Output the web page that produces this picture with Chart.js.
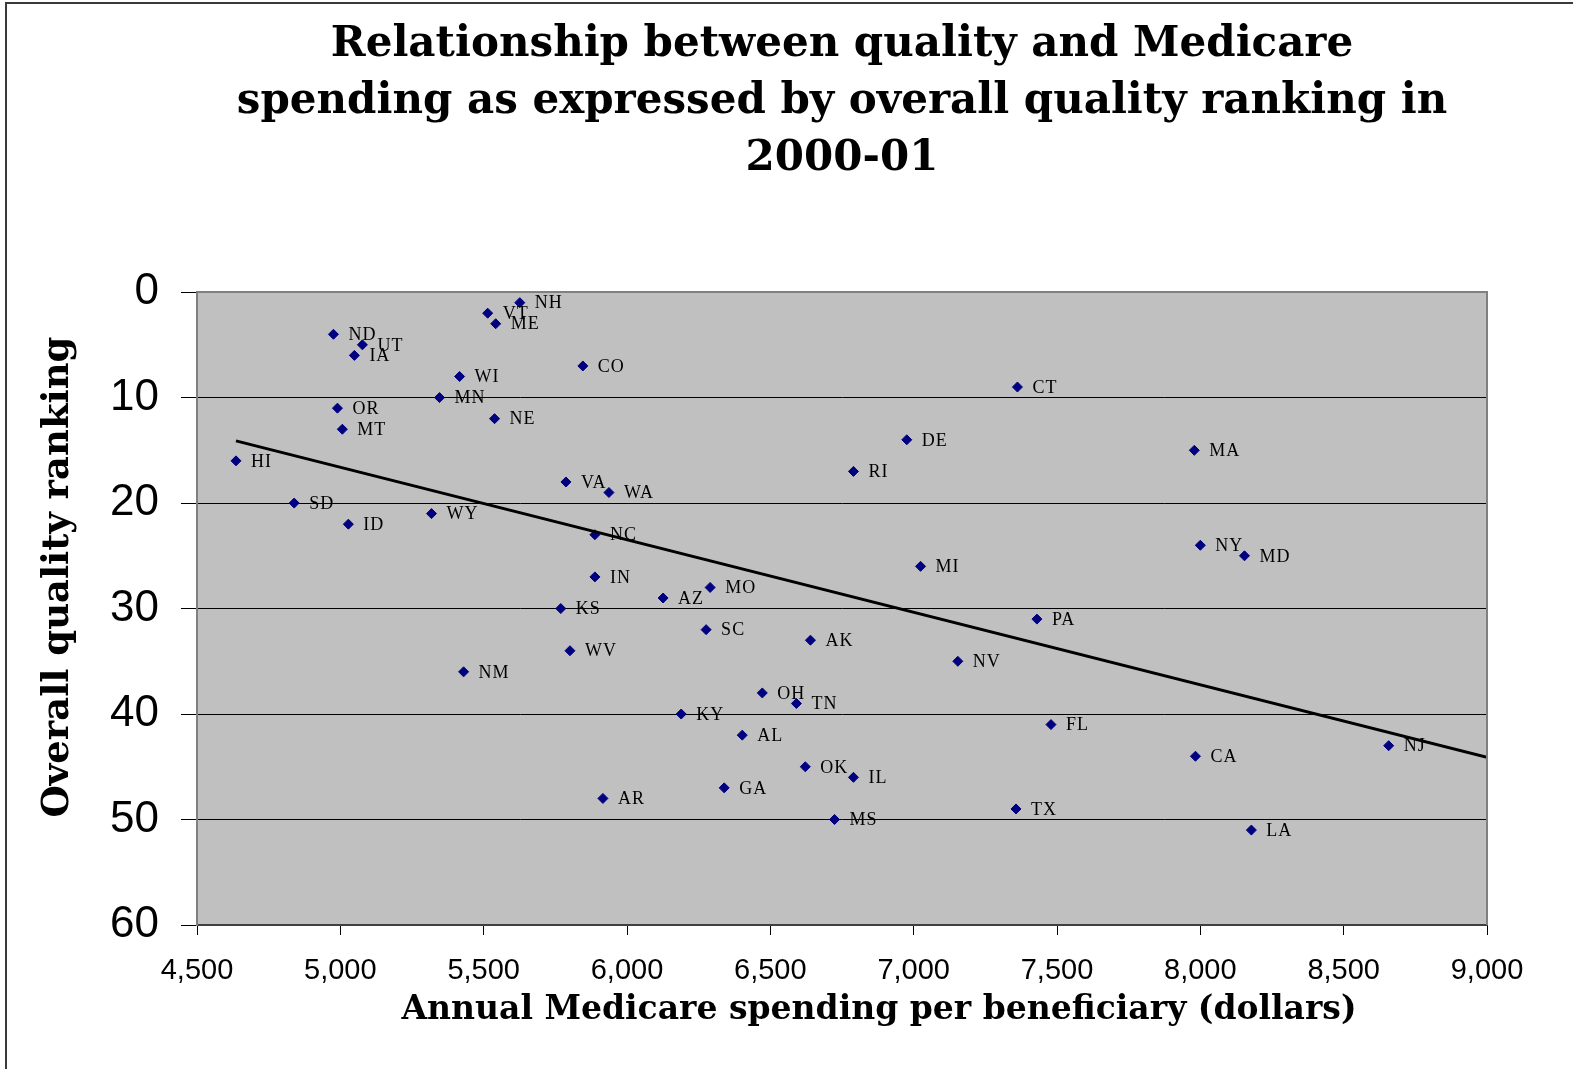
<!DOCTYPE html>
<html lang="en">
    <head>
        <meta charset="UTF-8" />
        <title>Quality ranking vs Medicare spending</title>
        <script src="https://cdn.jsdelivr.net/npm/chart.js"></script>
        <style>
            html, body { margin: 0; padding: 0; background: #fff; overflow: hidden; }
            #wrap { width: 1573px; height: 1069px; position: relative; }
        </style>
    </head>
    <body>
        <div id="wrap"><canvas id="myChart"></canvas></div>

        <script>
            // state, spending per beneficiary ($), overall quality rank
            const states = ["NH", "VT", "ME", "ND", "UT", "IA", "CO", "WI", "CT", "MN",
                "OR", "NE", "MT", "DE", "MA", "HI", "RI", "VA", "WA", "SD",
                "WY", "ID", "NC", "NY", "MD", "MI", "IN", "MO", "AZ", "KS",
                "PA", "SC", "AK", "WV", "NV", "NM", "OH", "TN", "KY", "FL",
                "AL", "NJ", "CA", "OK", "IL", "GA", "AR", "TX", "MS", "LA"];
            const spending = [5626, 5514, 5542, 4976, 5077, 5049, 5846, 5416, 7362, 5346,
                4990, 5538, 5007, 6976, 7979, 4636, 6790, 5787, 5937, 4839,
                5318, 5028, 5888, 8000, 8154, 7024, 5888, 6290, 6126, 5769,
                7430, 6276, 6640, 5801, 7154, 5430, 6472, 6591, 6189, 7479,
                6402, 8657, 7983, 6622, 6790, 6339, 5916, 7357, 6724, 8178];
            const ranking = [1, 2, 3, 4, 5, 6, 7, 8, 9, 10,
                11, 12, 13, 14, 15, 16, 17, 18, 19, 20,
                21, 22, 23, 24, 25, 26, 27, 28, 29, 30,
                31, 32, 33, 34, 35, 36, 38, 39, 40, 41,
                42, 43, 44, 45, 46, 47, 48, 49, 50, 51];

            // linear trend line at both ends
            const trendSpending = [4636, 9000];
            const trendRanking = [14.1, 44.1];

            const serif = "'DejaVu Serif', serif";
            const sans = "'Liberation Sans', Arial, sans-serif";

            const points = spending.map((x, i) => ({ x: x, y: ranking[i] }));
            const trend = trendSpending.map((x, i) => ({ x: x, y: trendRanking[i] }));

            // grey plot area + outer frame of the figure
            const backdrop = {
                id: "backdrop",
                beforeDraw(chart) {
                    const { ctx, chartArea: a } = chart;
                    ctx.save();
                    ctx.fillStyle = "#c0c0c0";
                    ctx.fillRect(a.left, a.top, a.right - a.left, a.bottom - a.top);
                    ctx.strokeStyle = "#3a3a3a";
                    ctx.lineWidth = 2;
                    ctx.beginPath();
                    ctx.moveTo(6, chart.height);
                    ctx.lineTo(6, 3);
                    ctx.lineTo(chart.width, 3);
                    ctx.stroke();
                    ctx.restore();
                },
                afterDraw(chart) {
                    const { ctx, chartArea: a } = chart;
                    ctx.save();
                    ctx.strokeStyle = "#808080";
                    ctx.lineWidth = 2;
                    ctx.beginPath();
                    ctx.moveTo(a.left, a.top);
                    ctx.lineTo(a.right, a.top);
                    ctx.lineTo(a.right, a.bottom);
                    ctx.stroke();
                    ctx.restore();
                },
            };

            // state abbreviations next to each marker
            const stateLabels = {
                id: "stateLabels",
                afterDatasetsDraw(chart) {
                    const ctx = chart.ctx;
                    const meta = chart.getDatasetMeta(1);
                    ctx.save();
                    ctx.font = "18px 'Liberation Serif', serif";
                    ctx.fillStyle = "#000";
                    ctx.textBaseline = "middle";
                    ctx.textAlign = "left";
                    ctx.letterSpacing = "1px";
                    meta.data.forEach((el, i) => {
                        ctx.fillText(states[i], el.x + 15, el.y + 1);
                    });
                    ctx.restore();
                },
            };

            // axis titles (placed like the original, off-centre)
            const axisTitles = {
                id: "axisTitles",
                afterDraw(chart) {
                    const ctx = chart.ctx;
                    ctx.save();
                    ctx.fillStyle = "#000";
                    ctx.textAlign = "center";
                    ctx.textBaseline = "middle";
                    ctx.font = "bold 33px " + serif;
                    ctx.fillText("Annual Medicare spending per beneficiary (dollars)", 879, 1010);
                    ctx.font = "bold 37px " + serif;
                    ctx.translate(58, 577);
                    ctx.rotate(-Math.PI / 2);
                    ctx.fillText("Overall quality ranking", 0, 0);
                    ctx.restore();
                },
            };

            const ctx = document.getElementById("myChart").getContext("2d");
            const myChart = new Chart(ctx, {
                type: "scatter",
                data: {
                    datasets: [
                        {
                            type: "line",
                            label: "Trend",
                            data: trend,
                            borderColor: "#000",
                            borderWidth: 3,
                            pointRadius: 0,
                            fill: false,
                        },
                        {
                            label: "States",
                            data: points,
                            pointStyle: "rectRot",
                            pointRadius: 5,
                            pointBorderWidth: 1,
                            backgroundColor: "#000080",
                            borderColor: "#000080",
                        },
                    ],
                },
                options: {
                    responsive: true,
                    maintainAspectRatio: false,
                    animation: false,
                    layout: {
                        padding: { left: 8, right: 86, top: 0, bottom: 0 },
                    },
                    plugins: {
                        legend: { display: false },
                        tooltip: { enabled: false },
                        title: {
                            display: true,
                            fullSize: false,
                            text: [
                                "Relationship between quality and Medicare",
                                "spending as expressed by overall quality ranking in",
                                "2000-01",
                            ],
                            color: "#000",
                            font: { family: serif, weight: "bold", size: 42, lineHeight: 1.35 },
                            padding: { top: 17, bottom: 105 },
                        },
                    },
                    scales: {
                        x: {
                            type: "linear",
                            min: 4500,
                            max: 9000,
                            afterFit: (scale) => { scale.height = 144; },
                            ticks: {
                                stepSize: 500,
                                color: "#000",
                                font: { family: sans, size: 29 },
                                padding: 19,
                                maxRotation: 0,
                            },
                            grid: {
                                drawOnChartArea: false,
                                color: "#000",
                                tickLength: 10,
                            },
                            border: { color: "#404040", width: 2 },
                        },
                        y: {
                            type: "linear",
                            reverse: true,
                            min: 0,
                            max: 60,
                            afterFit: (scale) => { scale.width = 189; },
                            ticks: {
                                stepSize: 10,
                                color: "#000",
                                font: { family: sans, size: 44 },
                                padding: 22,
                            },
                            grid: {
                                color: "#000",
                                lineWidth: 1,
                                tickLength: 16,
                            },
                            border: { color: "#808080", width: 2 },
                        },
                    },
                },
                plugins: [backdrop, stateLabels, axisTitles],
            });
        </script>
    </body>
</html>
